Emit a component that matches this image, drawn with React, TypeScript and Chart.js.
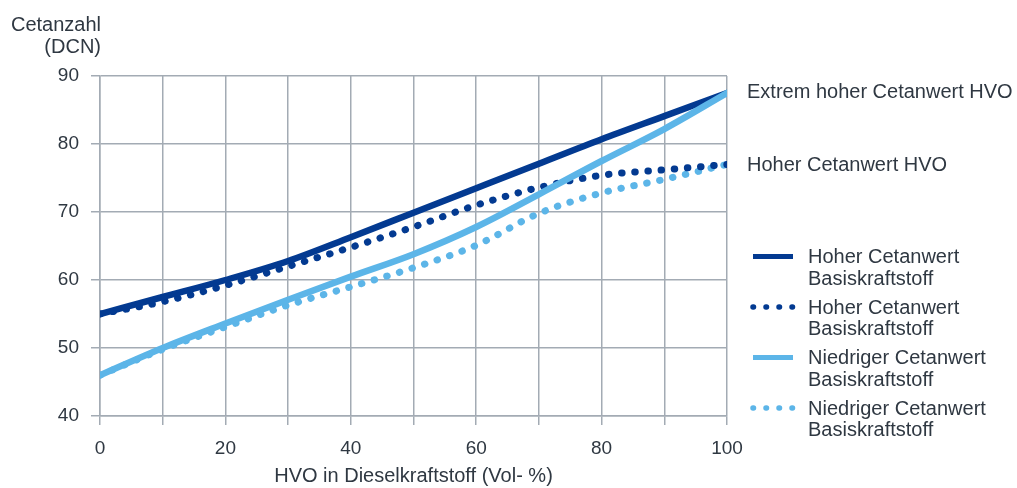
import React, { useEffect, useRef } from "react";
import { Chart, registerables } from "chart.js";

Chart.register(...registerables);

const xValues = [0, 10, 20, 30, 40, 50, 60, 70, 80, 90, 100];
const hohBasisHohHVO = [55, 57.5, 60, 62.8, 66.3, 69.9, 73.5, 77.1, 80.7, 84.1, 87.5];
const hohBasisHVO = [55, 56.8, 59.2, 62, 64.8, 67.8, 71, 73.6, 75.4, 76.2, 77];
const niedBasisHohHVO = [46, 50, 53.6, 57.1, 60.5, 63.8, 67.8, 72.6, 77.5, 82.2, 87.5];
const niedBasisHVO = [46, 49.8, 53.1, 56.3, 59, 61.8, 65.1, 69.8, 72.8, 74.8, 77];

const endLabels = ["Extrem hoher Cetanwert HVO", "Hoher Cetanwert HVO"];
const legendLabels = [
  ["Hoher Cetanwert", "Basiskraftstoff"],
  ["Hoher Cetanwert", "Basiskraftstoff"],
  ["Niedriger Cetanwert", "Basiskraftstoff"],
  ["Niedriger Cetanwert", "Basiskraftstoff"],
];
const yTitle = ["Cetanzahl", "(DCN)"];
const xTitle = "HVO in Dieselkraftstoff (Vol- %)";

const DARK = "#033a91";
const LIGHT = "#5cb5e8";
const TEXT = "#2f3842";
const GRID = "#a3abb4";
const FONT = "'Liberation Sans', Arial, Helvetica, sans-serif";

const toPts = (ys: number[]) => xValues.map((x, i) => ({ x, y: ys[i] }));

export default function App() {
  const ref = useRef<HTMLCanvasElement | null>(null);
  useEffect(() => {
    if (!ref.current) return;
    const overlay = {
      id: "overlay",
      beforeInit(chart: any) {
        chart.ctx.letterSpacing = "0.1px";
      },
      afterDraw(chart: any) {
        const ctx = chart.ctx as CanvasRenderingContext2D;
        const ys = chart.scales.y;
        ctx.save();
        ctx.fillStyle = TEXT;
        ctx.font = `20px ${FONT}`;
        ctx.textBaseline = "alphabetic";
        // y title
        ctx.textAlign = "right";
        ctx.fillText(yTitle[0], 101, 31);
        ctx.fillText(yTitle[1], 101, 53);
        // end labels
        ctx.textAlign = "left";
        const top = ys.getPixelForValue(hohBasisHohHVO[hohBasisHohHVO.length - 1]);
        const mid = ys.getPixelForValue(hohBasisHVO[hohBasisHVO.length - 1]);
        ctx.fillText(endLabels[0], 747, top + 5);
        ctx.fillText(endLabels[1], 747, mid + 6.5);
        // legend
        const styles = [
          { c: DARK, dash: [] as number[] },
          { c: DARK, dash: [0.5, 12.5] },
          { c: LIGHT, dash: [] as number[] },
          { c: LIGHT, dash: [0.5, 12.5] },
        ];
        const baseY = [263, 313.5, 364, 414.5];
        styles.forEach((s, i) => {
          const by = baseY[i];
          ctx.save();
          ctx.strokeStyle = s.c;
          ctx.setLineDash(s.dash);
          ctx.lineCap = s.dash.length ? "round" : "butt";
          ctx.lineWidth = s.dash.length ? 5.5 : 5;
          ctx.beginPath();
          ctx.moveTo(753, by - 6.5);
          ctx.lineTo(s.dash.length ? 794 : 793, by - 6.5);
          ctx.stroke();
          ctx.restore();
          ctx.fillText(legendLabels[i][0], 808, by);
          ctx.fillText(legendLabels[i][1], 808, by + 21.5);
        });
        ctx.restore();
      },
    };
    const chart = new Chart(ref.current, {
      type: "line",
      data: {
        datasets: [
          {
            label: "Niedriger Cetanwert Basiskraftstoff (HVO)",
            data: toPts(niedBasisHVO),
            borderColor: LIGHT,
            borderWidth: 7,
            borderDash: [0.5, 12.7],
            borderCapStyle: "round",
            pointRadius: 0,
            cubicInterpolationMode: "monotone",
            order: 4,
          },
          {
            label: "Hoher Cetanwert Basiskraftstoff (HVO)",
            data: toPts(hohBasisHVO),
            borderColor: DARK,
            borderWidth: 7,
            borderDash: [0.5, 12.7],
            borderCapStyle: "round",
            pointRadius: 0,
            cubicInterpolationMode: "monotone",
            order: 3,
          },
          {
            label: "Hoher Cetanwert Basiskraftstoff",
            data: toPts(hohBasisHohHVO),
            borderColor: DARK,
            borderWidth: 6.5,
            borderCapStyle: "round",
            pointRadius: 0,
            cubicInterpolationMode: "monotone",
            order: 2,
          },
          {
            label: "Niedriger Cetanwert Basiskraftstoff",
            data: toPts(niedBasisHohHVO),
            borderColor: LIGHT,
            borderWidth: 6.5,
            borderCapStyle: "round",
            pointRadius: 0,
            cubicInterpolationMode: "monotone",
            order: 1,
          },
        ],
      },
      options: {
        responsive: false,
        animation: false,
        layout: { padding: { top: 76, right: 290, left: 0, bottom: 0 } },
        plugins: { legend: { display: false }, tooltip: { enabled: false } },
        scales: {
          x: {
            type: "linear",
            min: 0,
            max: 100,
            afterFit: (s: any) => {
              s.height = 72;
            },
            grid: { color: GRID, lineWidth: 1.5, tickLength: 9, drawTicks: true },
            border: { color: GRID, width: 1.5 },
            ticks: {
              stepSize: 10,
              autoSkip: false,
              maxRotation: 0,
              padding: 12,
              color: TEXT,
              font: { family: FONT, size: 19 },
              callback: (v: any) => (Number(v) % 20 === 0 ? String(v) : ""),
            },
            title: {
              display: true,
              text: xTitle,
              color: TEXT,
              font: { family: FONT, size: 20 },
              padding: { top: 0, bottom: 0 },
            },
          },
          y: {
            min: 40,
            max: 90,
            afterFit: (s: any) => {
              s.width = 100;
            },
            grid: { color: GRID, lineWidth: 1.5, tickLength: 9 },
            border: { color: GRID, width: 1.5 },
            ticks: {
              stepSize: 10,
              padding: 12,
              color: TEXT,
              font: { family: FONT, size: 19 },
            },
          },
        },
      },
      plugins: [overlay],
    } as any);
    return () => chart.destroy();
  }, []);
  return (
    <div style={{ position: "fixed", left: 0, top: 0, width: 1017, height: 488, background: "#fff" }}>
      <canvas ref={ref} width={1017} height={488} />
    </div>
  );
}
